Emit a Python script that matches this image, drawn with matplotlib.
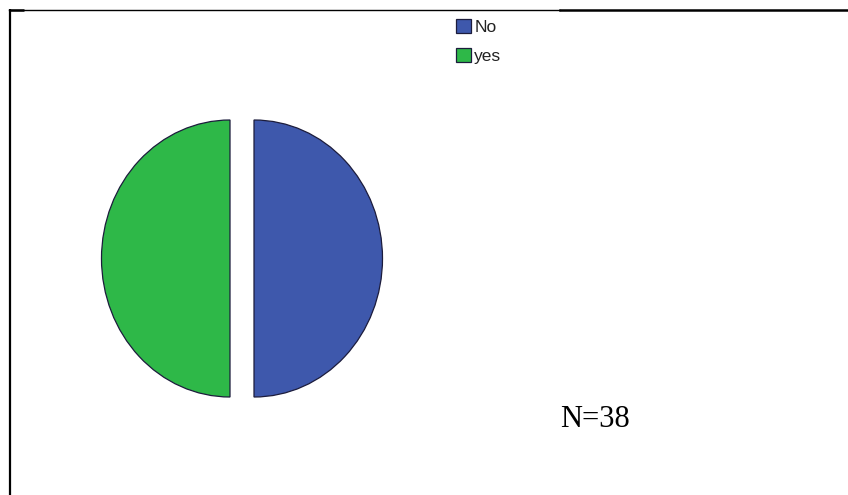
import matplotlib
matplotlib.use("Agg")
import matplotlib.pyplot as plt
from matplotlib.lines import Line2D

# Data
labels = ["No", "yes"]
counts = [19, 19]
colors = ["#3E58AC", "#2EB848"]
n_total = sum(counts)

W, H, DPI = 848, 495, 100
fig = plt.figure(figsize=(W / DPI, H / DPI), dpi=DPI)
fig.patch.set_facecolor("white")


def fx(px):
    return px / W


def fy(py):
    return 1 - py / H


# pie axes: ellipse centre (242, 258.5), rx 128.5 px, ry 138.5 px
lim = 1.2
cx, cy, rx, ry = 242, 258.5, 128.5, 138.5
ax = fig.add_axes([fx(cx - lim * rx), fy(cy + lim * ry),
                   2 * lim * rx / W, 2 * lim * ry / H])
wedges, _ = ax.pie(counts, colors=colors, startangle=90, counterclock=False,
                   explode=[12 / rx] * len(counts),
                   wedgeprops=dict(edgecolor="#1c1c3c", linewidth=0.9))
ax.set_aspect("auto")
ax.set_xlim(-lim, lim)
ax.set_ylim(-lim, lim)
ax.axis("off")

# legend
fig.legend(wedges, labels, loc="upper left",
           bbox_to_anchor=(fx(456), fy(19)), frameon=False,
           prop={"family": "Liberation Sans", "size": 12.5},
           handlelength=0.85, handleheight=0.9, handletextpad=0.2,
           labelspacing=0.72, borderpad=0, borderaxespad=0,
           labelcolor="#222222")

# N label
fig.text(fx(560), fy(427), f"N={n_total}", family="Liberation Serif",
         fontsize=22, va="baseline", ha="left", color="black")

# table-like frame lines
fig.add_artist(Line2D([fx(9), fx(560)], [fy(9.5), fy(9.5)],
                      color="black", lw=1.0))
fig.add_artist(Line2D([fx(560), fx(848)], [fy(9.5), fy(9.5)],
                      color="black", lw=1.8))
fig.add_artist(Line2D([fx(9), fx(24)], [fy(9.5), fy(9.5)],
                      color="black", lw=1.8, solid_capstyle="butt"))
fig.add_artist(Line2D([fx(10), fx(10)], [fy(9), fy(495)],
                      color="black", lw=1.6, solid_capstyle="butt"))

fig.savefig("out.png", dpi=DPI, facecolor="white")
